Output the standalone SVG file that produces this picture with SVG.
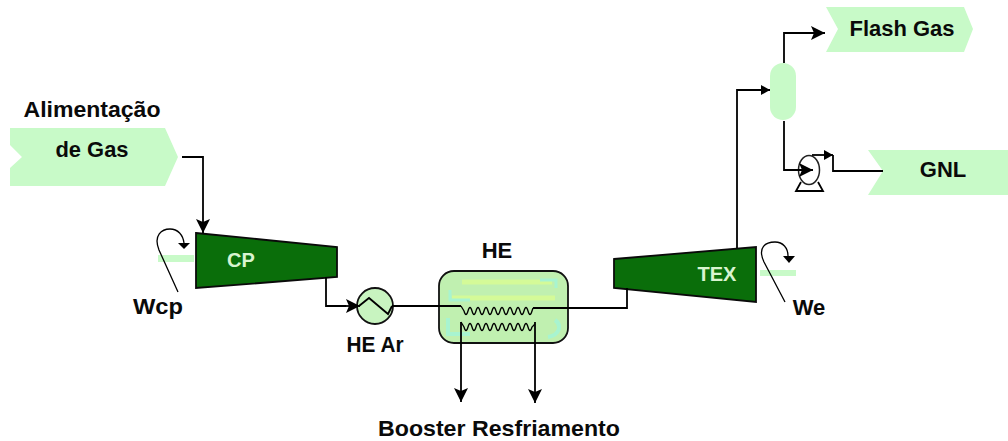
<svg xmlns="http://www.w3.org/2000/svg" width="1008" height="441" viewBox="0 0 1008 441">
<style>
.t{font-family:"Liberation Sans",Arial,sans-serif;font-weight:bold;font-size:22px;fill:#0a0a0a;text-anchor:middle}
.l{fill:#d8f4d0;font-size:20px}
.c{fill:none;stroke:#000;stroke-width:1.8}
.k{fill:#0a6e0a;stroke:#0a0a0a;stroke-width:1.8}
.n{fill:none;stroke:#000;stroke-width:1.3}
.s{fill:#c8fac8}
</style>
<defs>
<marker id="a" markerUnits="userSpaceOnUse" markerWidth="16" markerHeight="16" refX="14" refY="8" orient="auto"><path d="M0 1L14 8L0 15L3 8Z" fill="#000"/></marker>
<marker id="b" markerUnits="userSpaceOnUse" markerWidth="10" markerHeight="12" refX="9" refY="6" orient="auto"><path d="M0 1L9 6L0 11Z" fill="#000"/></marker>
</defs>
<rect width="1008" height="441" fill="#fff"/>
<g id="feed">
<path class="s" d="M10 128H165L178 157L165 186H10V168L22 157L10 145Z"/>
<text class="t" x="92" y="117" textLength="137" lengthAdjust="spacingAndGlyphs">Alimentação</text>
<text class="t" x="92" y="157" textLength="73" lengthAdjust="spacingAndGlyphs">de Gas</text>
</g>
<g id="cp">
<rect class="s" x="158" y="255" width="36" height="7"/>
<path class="k" d="M196 233L337 247V277L196 288Z"/>
<text class="t l" x="241" y="267">CP</text>
</g>
<g id="wcp">
<path class="n" d="M178 292L159 250C153 235 162 229 170 229C178 229 183 235 184 243"/>
<path d="M178 243H190L184 249Z" fill="#000"/>
<text class="t" x="158" y="314" textLength="50" lengthAdjust="spacingAndGlyphs">Wcp</text>
</g>
<g id="he-ar">
<circle cx="375" cy="306" r="18" fill="#c8f4c0" stroke="#111" stroke-width="1.8"/>
<path class="c" d="M359 306L369 298L388 314L392 306"/>
<text class="t" x="375" y="352" textLength="57" lengthAdjust="spacingAndGlyphs">HE Ar</text>
</g>
<g id="he">
<rect x="439" y="271" width="129" height="72" rx="15" fill="#c0f0b0" stroke="#111" stroke-width="1.8"/>
<path d="M462 282H552M452 298H555" stroke="#d4fa98" stroke-width="5" fill="none"/>
<path d="M450 290V300H470M556 288V280H540" stroke="#a8f4d0" stroke-width="3" fill="none"/>
<path d="M448 318V334H470M555 320C562 325 560 335 548 337" stroke="#a8f4d0" stroke-width="4" fill="none"/>
<path class="n" d="M461 306L464 311q2 7 4 0q2-7 4 0q2 7 4 0q2-7 4 0q2 7 4 0q2-7 4 0q2 7 4 0q2-7 4 0q2 7 4 0q2-7 4 0q2 7 4 0q2-7 4 0q2 7 4 0q2-7 4 0q2 7 4 0q2-7 4 0q2 7 4 0L533 308"/>
<path class="n" d="M461 322L464 327q2 7 4 0q2-7 4 0q2 7 4 0q2-7 4 0q2 7 4 0q2-7 4 0q2 7 4 0q2-7 4 0q2 7 4 0q2-7 4 0q2 7 4 0q2-7 4 0q2 7 4 0q2-7 4 0q2 7 4 0q2-7 4 0q2 7 4 0L535 324"/>
<text class="t" x="497" y="258">HE</text>
</g>
<g id="tex">
<rect class="s" x="760" y="270" width="36" height="6"/>
<path class="k" d="M614 259L756 247V302L614 288Z"/>
<text class="t l" x="717" y="281">TEX</text>
</g>
<g id="we">
<path class="n" d="M785 302L764 262C757 247 766 242 775 242C783 242 788 248 788 256"/>
<path d="M783 256H795L789 263Z" fill="#000"/>
<text class="t" x="809" y="315">We</text>
</g>
<g id="separator">
<rect class="s" x="770" y="63" width="26" height="57" rx="13"/>
</g>
<g id="pump">
<ellipse cx="809" cy="170" rx="10.500" ry="14.500" fill="#fff" stroke="#222" stroke-width="1.5"/>
<path class="c" d="M801 182L796 191H823L818 182"/>
</g>
<g id="flash">
<path class="s" d="M826 7H964L973 29L964 52H826L838 29Z"/>
<text class="t" x="902" y="36" textLength="105" lengthAdjust="spacingAndGlyphs">Flash Gas</text>
</g>
<g id="gnl">
<path class="s" d="M868 150H1008V195H868L883 171Z"/>
<text class="t" x="943" y="177">GNL</text>
</g>
<text id="booster" class="t" x="499" y="436" textLength="242" lengthAdjust="spacingAndGlyphs">Booster Resfriamento</text>
<g id="connectors">
<path class="c" marker-end="url(#a)" d="M182 157H203V233"/>
<path class="c" d="M326 277V306H346"/>
<path class="c" marker-end="url(#a)" d="M340 306H360"/>
<path class="c" d="M392 306H461"/>
<path class="c" d="M533 308H627V288"/>
<path class="c" marker-end="url(#b)" d="M737 248V90H770"/>
<path class="c" marker-end="url(#a)" d="M784 63V33H825"/>
<path class="c" marker-end="url(#a)" d="M784 121V170H813"/>
<path class="c" marker-end="url(#b)" d="M812 155H833"/>
<path class="c" d="M833 155V171H883"/>
<path class="c" marker-end="url(#a)" d="M461 322V402"/>
<path class="c" marker-end="url(#a)" d="M535 322V403"/>
</g>
</svg>
